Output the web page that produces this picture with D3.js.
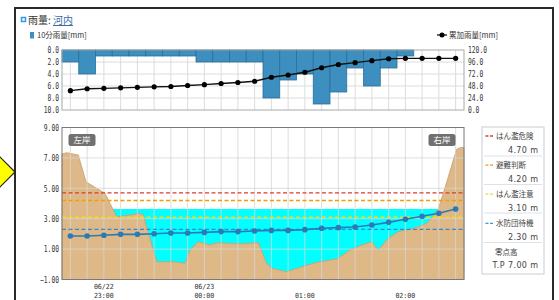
<!DOCTYPE html>
<html><head><meta charset="utf-8">
<script src="https://cdn.jsdelivr.net/npm/d3@7/dist/d3.min.js"></script>
<style>
html,body{margin:0;padding:0;background:#fff;overflow:hidden}
svg{display:block}
</style></head>
<body>
<svg id="c" width="559" height="300"></svg>
<script>
// ---------- data ----------
const times = ["06/22 22:40","06/22 22:50","06/22 23:00","06/22 23:10","06/22 23:20","06/22 23:30",
  "06/22 23:40","06/22 23:50","06/23 00:00","06/23 00:10","06/23 00:20","06/23 00:30",
  "06/23 00:40","06/23 00:50","06/23 01:00","06/23 01:10","06/23 01:20","06/23 01:30",
  "06/23 01:40","06/23 01:50","06/23 02:00","06/23 02:10","06/23 02:20","06/23 02:30"];
const rain10 = [2,4,1,1,1,1,1,1,2,2,2,2,8,5,4,9,7,3,6,3,1,0,0,0];
const rainCum = [38.7,42.5,43.3,44.3,45.3,46.3,47,49,50.7,53,55,57.5,65.5,70,75.5,84.5,91,94.7,98.7,102.5,103.3,103.3,103.3,103.3];
const waterLevel = [1.86,1.86,1.91,1.97,1.97,2.01,2.06,2.06,2.10,2.15,2.15,2.19,2.23,2.23,2.28,2.37,2.41,2.45,2.59,2.76,2.96,3.16,3.36,3.64];
const xTickValues = ["06/22 23:00","06/23 00:00","06/23 01:00","06/23 02:00"];
const xTickLabels = [["06/22","23:00"],["06/23","00:00"],["","01:00"],["","02:00"]];
const rainTicks = [0,2,4,6,8,10];
const cumTicks = [0,24,48,72,96,120];
const levelTicks = [-1,1,3,5,7,9];
const levelNames = ["はん濫危険","避難判断","はん濫注意","水防団待機"];
const levelValues = [4.70,4.20,3.10,2.30];
const levelColors = ["#dd3b2c","#f0a000","#ecdc20","#3a86d0"];
const legendDashColors = ["#c9453b","#eba020","#ecdc40","#3c9cc8"];
// river cross-section (distance %, elevation m)
const terrainDist = [0,1.17,4.05,5.97,8.63,10.70,13.61,16.92,19.40,20.22,23.56,27.69,30.60,31.84,33.91,36.82,38.51,44.28,48.83,50.92,52.16,55.90,59.63,63.36,68.33,71.64,74.55,77.04,78.68,81.17,83.66,85.75,88.63,90.72,91.97,93.61,94.85,96.10,97.34,98.18,99.00,100];
const terrainElev = [7.26,7.34,7.19,5.43,5.00,4.67,3.13,3.24,3.36,3.24,0.17,0.17,0.07,0.94,1.49,1.27,1.42,1.34,1.42,0.07,-0.26,-0.49,-0.16,0.13,0.35,0.94,1.27,1.49,0.94,1.71,2.15,2.26,2.47,2.70,3.03,3.66,4.67,5.76,6.86,7.57,7.67,7.70];

// ---------- setup ----------
const svg = d3.select("#c");
const L = 62, R = 464;
const mono = "'DejaVu Sans Mono', 'Liberation Mono', monospace";
const jp = "'Noto Sans CJK JP', 'Noto Sans', sans-serif";

const x = d3.scaleBand().domain(times).range([L, R]).padding(0);
const xc = t => x(t) + x.bandwidth()/2;
const yRain = d3.scaleLinear().domain([0,10]).range([50,110]);
const yCum = d3.scaleLinear().domain([0,120]).range([110,50]);
const yLev = d3.scaleLinear().domain([-1,9]).range([279.5,127.5]);
const xDist = d3.scaleLinear().domain([0,100]).range([L,R]);

// outer frame & arrow
svg.append("rect").attr("x",15).attr("y",8).attr("width",538).attr("height",310)
  .attr("fill","#fff").attr("stroke","#2a2a2a").attr("stroke-width",2);
svg.append("polygon").attr("points","15,172 -15,142 -15,202")
  .attr("fill","#ffff00").attr("stroke","#222").attr("stroke-width",1.2);

// title
svg.append("rect").attr("x",21.5).attr("y",17.5).attr("width",4).attr("height",4)
  .attr("fill","#fff").attr("stroke","#2f9be0").attr("stroke-width",1.5);
const title = svg.append("text").attr("x",28).attr("y",24).attr("font-family",jp).attr("font-size",10).attr("fill","#333");
title.append("tspan").text("雨量: ");
title.append("tspan").text("河内").attr("fill","#3a6ea5").attr("text-decoration","underline");

// legends of top chart
svg.append("rect").attr("x",30).attr("y",32).attr("width",4).attr("height",6.5).attr("fill","#3d8fc0");
svg.append("text").attr("x",37).attr("y",38).attr("font-family",jp).attr("font-size",7.5).attr("fill","#333").text("10分雨量[mm]");
svg.append("line").attr("x1",437).attr("x2",447).attr("y1",35).attr("y2",35).attr("stroke","#000").attr("stroke-width",1.2);
svg.append("circle").attr("cx",442).attr("cy",35).attr("r",2.5).attr("fill","#000");
svg.append("text").attr("x",449).attr("y",38).attr("font-family",jp).attr("font-size",7.5).attr("fill","#333").text("累加雨量[mm]");

function squeeze(sel, per){
  sel.selectAll("text").each(function(){
    const t = d3.select(this); const s = t.text();
    t.attr("textLength", s.length*per).attr("lengthAdjust","spacingAndGlyphs");
  });
}

// ---------- top chart ----------
const topG = svg.append("g");
topG.append("rect").attr("x",L).attr("y",50).attr("width",R-L).attr("height",60).attr("fill","#fff");
topG.append("g").selectAll("line").data(rainTicks.slice(1,-1)).join("line")
  .attr("x1",L).attr("x2",R).attr("y1",d=>yRain(d)).attr("y2",d=>yRain(d)).attr("stroke","#dcdcdc");
topG.append("g").selectAll("line").data(times).join("line")
  .attr("x1",d=>xc(d)).attr("x2",d=>xc(d)).attr("y1",50).attr("y2",110).attr("stroke","#dcdcdc");
topG.append("g").selectAll("rect").data(times.filter((t,i)=>rain10[i]>0)).join("rect")
  .attr("x",d=>x(d)).attr("width",x.bandwidth()).attr("y",yRain(0))
  .attr("height",d=>yRain(rain10[times.indexOf(d)])-yRain(0))
  .attr("fill","#3d8fc0").attr("stroke","#2b6f98").attr("stroke-width",0.8);
topG.append("path").datum(times).attr("fill","none").attr("stroke","#111").attr("stroke-width",1.3)
  .attr("d", d3.line().x(d=>xc(d)).y((d,i)=>yCum(rainCum[i])));
topG.append("g").selectAll("circle").data(times).join("circle")
  .attr("cx",d=>xc(d)).attr("cy",(d,i)=>yCum(rainCum[i])).attr("r",2.6).attr("fill","#000");
topG.append("rect").attr("x",L).attr("y",50).attr("width",R-L).attr("height",60)
  .attr("fill","none").attr("stroke","#a8a8a8");
const axRain = topG.append("g").attr("transform",`translate(${L},0)`)
  .call(d3.axisLeft(yRain).tickValues(rainTicks).tickSize(0).tickPadding(3).tickFormat(d3.format(".1f")));
const axCum = topG.append("g").attr("transform",`translate(${R},0)`)
  .call(d3.axisRight(yCum).tickValues(cumTicks).tickSize(0).tickPadding(4).tickFormat(d3.format(".1f")));
[axRain, axCum].forEach(a=>{
  a.select(".domain").remove();
  a.selectAll("text").attr("font-family",mono).attr("font-size",8.5).attr("fill","#333");
  squeeze(a,3.8);
});

// ---------- bottom chart ----------
const bot = svg.append("g");
bot.append("rect").attr("x",L).attr("y",127.5).attr("width",R-L).attr("height",152).attr("fill","#fff");
const curLevel = waterLevel[waterLevel.length-1];
bot.append("rect").attr("x",L).attr("y",yLev(curLevel)).attr("width",R-L)
  .attr("height",yLev(-1)-yLev(curLevel)).attr("fill","#00ffff");
bot.append("path").datum(terrainDist).attr("fill","#deb887").attr("stroke","#c79f70").attr("stroke-width",0.8)
  .attr("d", d3.area().x(d=>xDist(d)).y0(yLev(-1)).y1((d,i)=>yLev(terrainElev[i])));
bot.append("g").selectAll("line").data(levelTicks.slice(1,-1)).join("line")
  .attr("x1",L).attr("x2",R).attr("y1",d=>yLev(d)).attr("y2",d=>yLev(d)).attr("stroke","#d6d6d6").attr("stroke-opacity",0.8);
bot.append("g").selectAll("line").data(times).join("line")
  .attr("x1",d=>xc(d)).attr("x2",d=>xc(d)).attr("y1",127.5).attr("y2",279.5).attr("stroke","#d6d6d6").attr("stroke-opacity",0.8);
bot.append("g").selectAll("line").data(levelValues).join("line")
  .attr("x1",L).attr("x2",R).attr("y1",d=>yLev(d)).attr("y2",d=>yLev(d))
  .attr("stroke",(d,i)=>levelColors[i]).attr("stroke-width",1.4).attr("stroke-dasharray","4,2.5");
bot.append("path").datum(times).attr("fill","none").attr("stroke","#2a7bb5").attr("stroke-width",1.6)
  .attr("d", d3.line().x(d=>xc(d)).y((d,i)=>yLev(waterLevel[i])));
bot.append("g").selectAll("circle").data(times).join("circle")
  .attr("cx",d=>xc(d)).attr("cy",(d,i)=>yLev(waterLevel[i])).attr("r",2.8).attr("fill","#2a7bb5");
// bank labels
[["左岸",68.5],["右岸",428.5]].forEach(([t,bx])=>{
  bot.append("rect").attr("x",bx).attr("y",134).attr("width",27).attr("height",12).attr("rx",2.5).attr("fill","#707070");
  bot.append("text").attr("x",bx+13.5).attr("y",143.3).attr("text-anchor","middle")
    .attr("font-family",jp).attr("font-size",8.5).attr("fill","#fff").text(t);
});
bot.append("rect").attr("x",L).attr("y",127.5).attr("width",R-L).attr("height",152)
  .attr("fill","none").attr("stroke","#7a7a7a");
const axLev = bot.append("g").attr("transform",`translate(${L},0)`)
  .call(d3.axisLeft(yLev).tickValues(levelTicks).tickSize(0).tickPadding(3).tickFormat(d3.format(".2f")));
axLev.select(".domain").remove();
axLev.selectAll("text").attr("font-family",mono).attr("font-size",8.5).attr("fill","#333");
squeeze(axLev,3.8);
const axX = bot.append("g").attr("transform",`translate(0,279.5)`)
  .call(d3.axisBottom(x).tickValues(xTickValues).tickSize(0).tickFormat(""));
axX.select(".domain").remove();
axX.selectAll(".tick").each(function(d){
  const lab = xTickLabels[xTickValues.indexOf(d)];
  const g = d3.select(this); g.select("text").remove();
  lab.forEach((s,k)=>{
    if(!s) return;
    g.append("text").attr("y",k===0?9.6:18).attr("text-anchor","middle")
      .attr("font-family",mono).attr("font-size",7).attr("fill","#333")
      .attr("textLength",s.length*4).attr("lengthAdjust","spacingAndGlyphs").text(s);
  });
});

// ---------- legend box ----------
const lg = svg.append("g");
lg.append("rect").attr("x",482).attr("y",127).attr("width",62).attr("height",147)
  .attr("fill","#fff").attr("stroke","#c5ced8");
[156,184.5,213,242.5].forEach(yy=>lg.append("line").attr("x1",484).attr("x2",542).attr("y1",yy).attr("y2",yy).attr("stroke","#dde2e8"));
levelNames.forEach((n,i)=>{
  const cy = 136 + i*29.1;
  lg.append("line").attr("x1",485.5).attr("x2",493.5).attr("y1",cy).attr("y2",cy)
    .attr("stroke",legendDashColors[i]).attr("stroke-width",1.3).attr("stroke-dasharray","3,1.5");
  lg.append("text").attr("x",496).attr("y",cy+3).attr("font-family",jp).attr("font-size",7.5).attr("fill","#444").text(n);
  lg.append("text").attr("x",538.5).attr("y",cy+16.5).attr("text-anchor","end").attr("font-family","'DejaVu Sans', sans-serif")
    .attr("font-size",8).attr("letter-spacing",0.4).attr("fill","#444").text(levelValues[i].toFixed(2)+" m");
});
lg.append("text").attr("x",495).attr("y",255).attr("font-family",jp).attr("font-size",7.5).attr("fill","#444").text("零点高");
lg.append("text").attr("x",538.5).attr("y",268.3).attr("text-anchor","end").attr("font-family","'DejaVu Sans', sans-serif")
  .attr("font-size",8).attr("letter-spacing",0.4).attr("fill","#444").text("T.P 7.00 m");
</script>
</body></html>
